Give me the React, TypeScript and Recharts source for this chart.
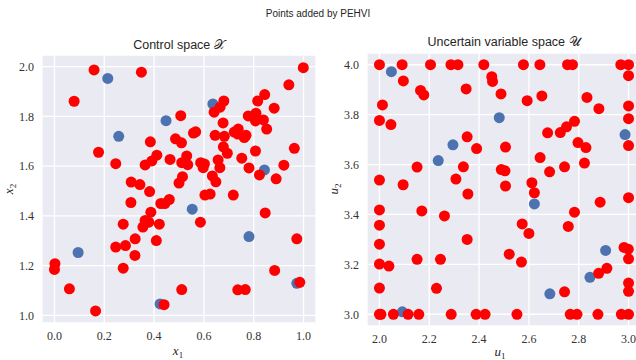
import React from "react";
import { ScatterChart, Scatter, XAxis, YAxis, CartesianGrid } from "recharts";

// initial design (blue) and points added by PEHVI (red), control space
const controlInitial: [number, number][] = [
  [0.214, 1.953], [0.448, 1.783], [0.636, 1.85], [0.258, 1.72], [0.843, 1.585],
  [0.553, 1.427], [0.781, 1.317], [0.095, 1.253], [0.424, 1.046], [0.973, 1.129],
];

const controlAdded: [number, number][] = [
  [0.159, 1.987], [0.349, 1.978], [0.079, 1.861], [0.507, 1.803], [0.385, 1.698],
  [0.486, 1.71], [0.177, 1.656], [0.246, 1.61], [0.364, 1.605], [0.391, 1.621],
  [0.411, 1.644], [0.464, 1.627], [0.308, 1.536], [0.343, 1.526], [0.382, 1.498],
  [0.514, 1.558], [0.999, 1.996], [0.941, 1.927], [0.844, 1.888], [0.816, 1.862],
  [0.882, 1.833], [0.68, 1.862], [0.665, 1.837], [0.641, 1.817], [0.778, 1.802],
  [0.809, 1.813], [0.807, 1.782], [0.839, 1.786], [0.852, 1.749], [0.677, 1.774],
  [0.567, 1.738], [0.558, 1.733], [0.51, 1.694], [0.645, 1.724], [0.682, 1.72],
  [0.722, 1.737], [0.738, 1.749], [0.736, 1.729], [0.762, 1.715], [0.769, 1.724],
  [0.678, 1.678], [0.694, 1.652], [0.807, 1.661], [0.963, 1.672], [0.752, 1.632],
  [0.531, 1.641], [0.511, 1.614], [0.535, 1.606], [0.587, 1.614], [0.602, 1.609],
  [0.597, 1.594], [0.657, 1.625], [0.664, 1.594], [0.781, 1.593], [0.823, 1.565],
  [0.921, 1.604], [0.89, 1.549], [0.5, 1.532], [0.634, 1.561], [0.648, 1.537],
  [0.307, 1.454], [0.427, 1.45], [0.443, 1.45], [0.461, 1.466], [0.387, 1.415],
  [0.276, 1.367], [0.364, 1.382], [0.379, 1.375], [0.355, 1.355], [0.421, 1.367],
  [0.324, 1.308], [0.409, 1.301], [0.246, 1.275], [0.285, 1.281], [0.323, 1.241],
  [0.002, 1.208], [0.0, 1.185], [0.276, 1.19], [0.06, 1.107], [0.511, 1.104],
  [0.44, 1.043], [0.165, 1.018], [0.604, 1.484], [0.625, 1.488], [0.718, 1.484],
  [0.586, 1.375], [0.846, 1.412], [0.973, 1.308], [0.884, 1.181], [0.736, 1.103],
  [0.766, 1.104], [0.985, 1.133],
];

// uncertain variable space
const uncertainInitial: [number, number][] = [
  [2.048, 3.972], [2.481, 3.788], [2.295, 3.679], [2.236, 3.616], [2.986, 3.72],
  [2.622, 3.442], [2.908, 3.256], [2.845, 3.148], [2.684, 3.082], [2.092, 3.01],
];

const uncertainAdded: [number, number][] = [
  [2.0, 4.0], [2.091, 4.0], [2.205, 4.0], [2.287, 4.0], [2.315, 4.0],
  [2.419, 4.0], [2.578, 4.0], [2.644, 4.0], [2.755, 4.0], [2.775, 4.0],
  [2.969, 4.0], [3.0, 4.0], [2.096, 3.935], [2.165, 3.897], [2.178, 3.879],
  [2.348, 3.903], [2.451, 3.952], [2.454, 3.933], [2.488, 3.883], [2.012, 3.839],
  [2.0, 3.777], [2.046, 3.76], [2.352, 3.711], [2.39, 3.664], [2.151, 3.59],
  [2.337, 3.591], [2.489, 3.58], [2.504, 3.575], [2.0, 3.538], [2.095, 3.519],
  [2.307, 3.542], [2.355, 3.482], [3.0, 3.956], [2.593, 3.856], [2.652, 3.875],
  [2.833, 3.869], [2.881, 3.824], [3.0, 3.835], [3.0, 3.784], [2.783, 3.773],
  [2.751, 3.751], [2.726, 3.728], [2.675, 3.727], [2.797, 3.688], [2.829, 3.668],
  [3.0, 3.676], [2.506, 3.67], [2.645, 3.628], [2.823, 3.606], [2.743, 3.591],
  [2.683, 3.571], [2.506, 3.514], [2.612, 3.527], [2.622, 3.487], [2.0, 3.418],
  [2.17, 3.414], [2.261, 3.394], [2.0, 3.357], [2.0, 3.281], [2.352, 3.3],
  [2.0, 3.201], [2.038, 3.193], [2.151, 3.22], [2.245, 3.22], [2.0, 3.105],
  [2.229, 3.104], [2.0, 3.0], [2.006, 3.0], [2.056, 3.0], [2.115, 3.0],
  [2.158, 3.0], [2.288, 3.0], [2.388, 3.0], [2.424, 3.0], [2.886, 3.449],
  [3.0, 3.467], [2.783, 3.409], [2.573, 3.362], [2.6, 3.324], [2.758, 3.352],
  [2.982, 3.268], [2.999, 3.261], [3.0, 3.222], [2.521, 3.241], [2.57, 3.209],
  [2.913, 3.184], [2.88, 3.164], [3.0, 3.125], [3.0, 3.092], [2.743, 3.09],
  [2.552, 3.0], [2.766, 3.0], [2.793, 3.0], [2.877, 3.0], [2.971, 3.0],
  [3.0, 3.0],
];

const controlXTicks = [0, 0.2, 0.4, 0.6, 0.8, 1.0];
const controlYTicks = [1.0, 1.2, 1.4, 1.6, 1.8, 2.0];
const uncertainXTicks = [2.0, 2.2, 2.4, 2.6, 2.8, 3.0];
const uncertainYTicks = [3.0, 3.2, 3.4, 3.6, 3.8, 4.0];

const BLUE = "#4C72B0";
const RED = "#FF0000";
const tickStyle = { fill: "#333", fontSize: 12, fontFamily: "'Liberation Serif', serif" };

const toPts = (arr: [number, number][]) => arr.map(([x, y]) => ({ x, y }));

const dot = (color: string) => (props: any) =>
  <circle cx={props.cx} cy={props.cy} r={5.5} fill={color} />;

function Panel({ initial, added, xDomain, yDomain, xTicks, yTicks, width, margin, yWidth }: any) {
  return (
    <ScatterChart width={width} height={360} margin={margin}>
      <CartesianGrid fill="#EAEAF2" stroke="#fff" strokeWidth={1.3} />
      <XAxis
        type="number"
        dataKey="x"
        domain={xDomain}
        ticks={xTicks}
        allowDataOverflow
        axisLine={false}
        tickLine={false}
        height={20}
        tick={tickStyle}
        tickFormatter={(v: number) => v.toFixed(1)}
        interval={0}
      />
      <YAxis
        type="number"
        dataKey="y"
        domain={yDomain}
        ticks={yTicks}
        allowDataOverflow
        axisLine={false}
        tickLine={false}
        width={yWidth}
        tick={tickStyle}
        tickFormatter={(v: number) => v.toFixed(1)}
        interval={0}
      />
      <Scatter data={toPts(initial)} shape={dot(BLUE)} isAnimationActive={false} />
      <Scatter data={toPts(added)} shape={dot(RED)} isAnimationActive={false} />
    </ScatterChart>
  );
}

export default function App() {
  const sans = "'Liberation Sans', 'DejaVu Sans', sans-serif";
  const serif = "'Liberation Serif', 'DejaVu Serif', serif";
  return (
    <div style={{ position: "absolute", left: 0, top: 0, width: 636, height: 360, overflow: "hidden", background: "#fff" }}>
      <div style={{ position: "absolute", left: 0, top: 0 }}>
        <Panel
          initial={controlInitial}
          added={controlAdded}
          xDomain={[-0.05, 1.05]}
          yDomain={[0.9695, 2.047]}
          xTicks={controlXTicks}
          yTicks={controlYTicks}
          width={320}
          yWidth={42}
          margin={{ top: 55, right: 4, bottom: 17, left: 0 }}
        />
      </div>
      <div style={{ position: "absolute", left: 320, top: 0 }}>
        <Panel
          initial={uncertainInitial}
          added={uncertainAdded}
          xDomain={[1.95, 3.05]}
          yDomain={[2.953, 4.047]}
          xTicks={uncertainXTicks}
          yTicks={uncertainYTicks}
          width={330}
          yWidth={47}
          margin={{ top: 53, right: 9, bottom: 14, left: 0 }}
        />
      </div>
      <svg width={636} height={360} style={{ position: "absolute", left: 0, top: 0, pointerEvents: "none" }}>
        <text x={318} y={17} textAnchor="middle" fontSize={10} fontFamily={sans} fill="#262626">
          Points added by PEHVI
        </text>
        <text x={179} y={49} textAnchor="middle" fontSize={12.5} fontFamily={sans} fill="#262626">
          Control space 𝒳
        </text>
        <text x={504} y={46} textAnchor="middle" fontSize={12.5} fontFamily={sans} fill="#262626">
          Uncertain variable space 𝒰
        </text>
        <text x={178} y={355} textAnchor="middle" fontSize={13} fontFamily={serif} fontStyle="italic" fill="#262626">
          x<tspan dy={3} fontSize={9} fontStyle="normal">1</tspan>
        </text>
        <text x={500} y={356} textAnchor="middle" fontSize={13} fontFamily={serif} fontStyle="italic" fill="#262626">
          u<tspan dy={3} fontSize={9} fontStyle="normal">1</tspan>
        </text>
        <text transform="translate(13,189) rotate(-90)" textAnchor="middle" fontSize={13} fontFamily={serif} fontStyle="italic" fill="#262626">
          x<tspan dy={3} fontSize={9} fontStyle="normal">2</tspan>
        </text>
        <text transform="translate(338,189) rotate(-90)" textAnchor="middle" fontSize={13} fontFamily={serif} fontStyle="italic" fill="#262626">
          u<tspan dy={3} fontSize={9} fontStyle="normal">2</tspan>
        </text>
      </svg>
    </div>
  );
}
